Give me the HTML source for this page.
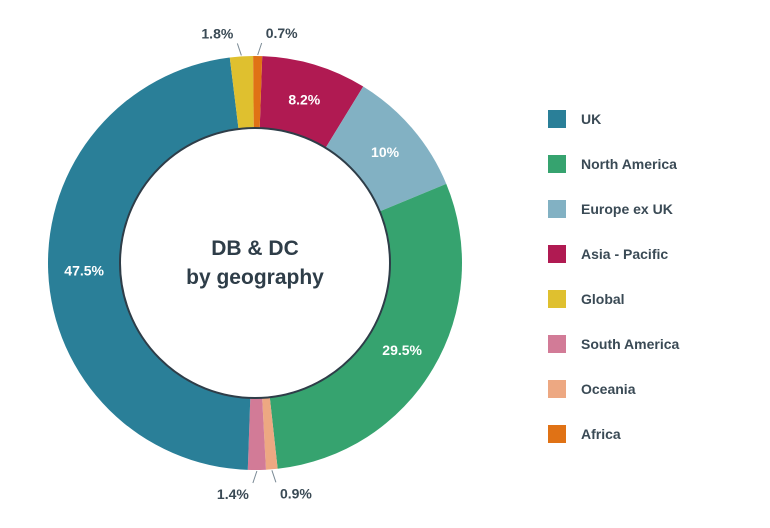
<!DOCTYPE html>
<html><head><meta charset="utf-8"><style>
html,body{margin:0;padding:0;background:#fff;}
body{width:770px;height:523px;overflow:hidden;font-family:"Liberation Sans",sans-serif;}
text{font-family:"Liberation Sans",sans-serif;}
</style></head><body>
<svg id="chart" width="770" height="523" viewBox="0 0 770 523" xmlns="http://www.w3.org/2000/svg">
<g id="slices"></g>
<circle cx="255" cy="263" r="135" fill="#fff" stroke="#2e3d48" stroke-width="2"/>
<text x="255" y="255" text-anchor="middle" font-size="21" font-weight="bold" fill="#2e3d48">DB &amp; DC</text>
<text x="255" y="284" text-anchor="middle" font-size="21" font-weight="bold" fill="#2e3d48">by geography</text>
<g id="labels"></g>
<g id="legend"></g>
</svg>
<script>
const categories=["Asia - Pacific","Europe ex UK","North America","Oceania","South America","UK","Global","Africa"];
const values=[8.2,10,29.5,0.9,1.4,47.5,1.8,0.7];
const valueLabels=["8.2%","10%","29.5%","0.9%","1.4%","47.5%","1.8%","0.7%"];
const colors=["#b01a52","#82b1c3","#36a36f","#eda882","#d27b97","#2a7f98","#dfc02f","#e07215"];
const legendOrder=["UK","North America","Europe ex UK","Asia - Pacific","Global","South America","Oceania","Africa"];
const outsideSide=[0,0,0,1,-1,0,-1,1];
const NS="http://www.w3.org/2000/svg";
const cx=255,cy=263,R=207,startDeg=2;
const total=values.reduce((a,b)=>a+b,0);
function pt(deg,r){const a=deg*Math.PI/180;return [cx+r*Math.sin(a),cy-r*Math.cos(a)];}
const sg=document.getElementById('slices'),lg=document.getElementById('labels');
let acc=0;
values.forEach((v,i)=>{
  const a0=startDeg+acc/total*360,a1=startDeg+(acc+v)/total*360;acc+=v;
  const p0=pt(a0,R),p1=pt(a1,R);
  const p=document.createElementNS(NS,'path');
  p.setAttribute('d',`M${cx},${cy}L${p0[0]},${p0[1]}A${R},${R} 0 ${a1-a0>180?1:0} 1 ${p1[0]},${p1[1]}Z`);
  p.setAttribute('fill',colors[i]);
  
  
  sg.appendChild(p);
  const mid=(a0+a1)/2;
  const t=document.createElementNS(NS,'text');
  
  
  t.setAttribute('font-size','14');t.setAttribute('font-weight','bold');t.setAttribute('text-anchor','middle');
  if(outsideSide[i]===0){
    const q=pt(mid,171);
    t.setAttribute('x',q[0]);t.setAttribute('y',q[1]+5);t.setAttribute('fill','#fff');
  }else{
    const s=outsideSide[i];
    const e=pt(mid,R+1),f=pt(mid,R+13);
    const top=f[1]<cy;
    const l=document.createElementNS(NS,'line');
    
    
    l.setAttribute('x1',e[0]);l.setAttribute('y1',e[1]);
    l.setAttribute('x2',e[0]+s*4);l.setAttribute('y2',top?e[1]-12:e[1]+12);
    l.setAttribute('stroke','#7a8a95');l.setAttribute('stroke-width','1');
    lg.appendChild(l);
    t.setAttribute('x',e[0]+s*24);t.setAttribute('y',top?e[1]-17:e[1]+28);t.setAttribute('fill','#3a4a55');
  }
  t.textContent=valueLabels[i];
  lg.appendChild(t);
});
const leg=document.getElementById('legend');
legendOrder.forEach((c,k)=>{
  const i=categories.indexOf(c);const y=110+k*45;
  const g=document.createElementNS(NS,'g');
  
  
  const r=document.createElementNS(NS,'rect');
  
  
  r.setAttribute('x',548);r.setAttribute('y',y);r.setAttribute('width',18);r.setAttribute('height',18);r.setAttribute('fill',colors[i]);
  const t=document.createElementNS(NS,'text');
  
  
  t.setAttribute('x',581);t.setAttribute('y',y+14);t.setAttribute('font-size','14');t.setAttribute('font-weight','bold');t.setAttribute('fill','#3a4a55');
  t.textContent=c;
  g.appendChild(r);g.appendChild(t);leg.appendChild(g);
});
</script>
</body></html>
